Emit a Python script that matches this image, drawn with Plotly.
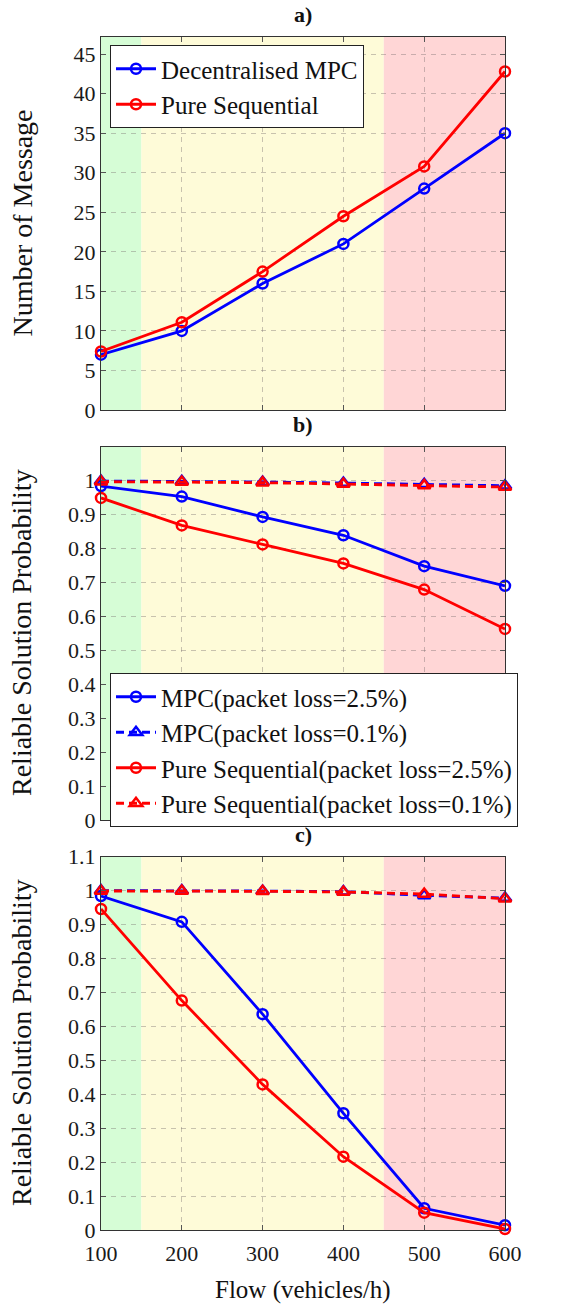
import plotly.graph_objects as go

# ---------------- data ----------------
flow = [100, 200, 300, 400, 500, 600]

# panel a) number of messages
msg_mpc = [7.0, 10.0, 16.0, 21.0, 28.0, 35.0]
msg_seq = [7.4, 11.1, 17.5, 24.5, 30.8, 42.8]

# panel b) reliable solution probability
b_mpc_25 = [0.984, 0.953, 0.893, 0.839, 0.748, 0.690]
b_mpc_01 = [0.999, 0.998, 0.996, 0.993, 0.989, 0.985]
b_seq_25 = [0.949, 0.868, 0.812, 0.756, 0.679, 0.563]
b_seq_01 = [0.997, 0.996, 0.994, 0.990, 0.986, 0.981]

# panel c) reliable solution probability
c_mpc_25 = [0.984, 0.908, 0.636, 0.344, 0.064, 0.014]
c_mpc_01 = [1.000, 1.000, 0.999, 0.997, 0.986, 0.978]
c_seq_25 = [0.946, 0.676, 0.429, 0.216, 0.051, 0.003]
c_seq_01 = [0.999, 0.999, 0.998, 0.996, 0.990, 0.976]

# shaded flow regimes
regions = [(100, 150, "#d6fdd6"),
           (150, 450, "#fefbd8"),
           (450, 600, "#ffd6d6")]

x_ticks = [100, 200, 300, 400, 500, 600]
a_ticks = [0, 5, 10, 15, 20, 25, 30, 35, 40, 45]
b_ticks = [0, 0.1, 0.2, 0.3, 0.4, 0.5, 0.6, 0.7, 0.8, 0.9, 1]
b_ticktext = ["0", "0.1", "0.2", "0.3", "0.4", "0.5", "0.6", "0.7", "0.8", "0.9", "1"]
c_ticks = [0, 0.1, 0.2, 0.3, 0.4, 0.5, 0.6, 0.7, 0.8, 0.9, 1, 1.1]
c_ticktext = ["0", "0.1", "0.2", "0.3", "0.4", "0.5", "0.6", "0.7", "0.8", "0.9", "1", "1.1"]

# ---------------- layout geometry ----------------
W, H = 584, 1304
FONT = "Liberation Serif"
BLUE = "#0000ff"
RED = "#ff0000"

def ypaper(px):
    return (H - px) / H

xdom = [101 / W, 505 / W]
doms = {
    "a": [ypaper(410), ypaper(36.7)],
    "b": [ypaper(820), ypaper(446.7)],
    "c": [ypaper(1230), ypaper(856.7)],
}

fig = go.Figure()

def line_trace(x, y, color, dash, symbol, name, xa, ya, legend, showlegend=True, msize=10):
    return go.Scatter(
        x=x, y=y, mode="lines+markers", name=name,
        line=dict(color=color, width=2.8, dash=dash),
        marker=dict(symbol=symbol, size=msize, color=color,
                    line=dict(color=color, width=2.5)),
        xaxis=xa, yaxis=ya, legend=legend, showlegend=showlegend,
        cliponaxis=False,
    )

DASH = "8px,5px"

# panel a
fig.add_trace(line_trace(flow, msg_mpc, BLUE, "solid", "circle-open", "Decentralised MPC", "x", "y", "legend"))
fig.add_trace(line_trace(flow, msg_seq, RED, "solid", "circle-open", "Pure Sequential", "x", "y", "legend"))

# panel b
fig.add_trace(line_trace(flow, b_mpc_25, BLUE, "solid", "circle-open", "MPC(packet loss=2.5%)", "x2", "y2", "legend2"))
fig.add_trace(line_trace(flow, b_mpc_01, BLUE, DASH, "triangle-up-open", "MPC(packet loss=0.1%)", "x2", "y2", "legend2", msize=11))
fig.add_trace(line_trace(flow, b_seq_25, RED, "solid", "circle-open", "Pure Sequential(packet loss=2.5%)", "x2", "y2", "legend2"))
fig.add_trace(line_trace(flow, b_seq_01, RED, DASH, "triangle-up-open", "Pure Sequential(packet loss=0.1%)", "x2", "y2", "legend2", msize=11))

# panel c
fig.add_trace(line_trace(flow, c_mpc_25, BLUE, "solid", "circle-open", "MPC(packet loss=2.5%)", "x3", "y3", "legend", False))
fig.add_trace(line_trace(flow, c_mpc_01, BLUE, DASH, "triangle-up-open", "MPC(packet loss=0.1%)", "x3", "y3", "legend", False, msize=11))
fig.add_trace(line_trace(flow, c_seq_25, RED, "solid", "circle-open", "Pure Sequential(packet loss=2.5%)", "x3", "y3", "legend", False))
fig.add_trace(line_trace(flow, c_seq_01, RED, DASH, "triangle-up-open", "Pure Sequential(packet loss=0.1%)", "x3", "y3", "legend", False, msize=11))

# shaded regions
shapes = []
for xr, yr in [("x", "y"), ("x2", "y2"), ("x3", "y3")]:
    for x0, x1, col in regions:
        shapes.append(dict(type="rect", xref=xr, yref=yr + " domain", x0=x0, x1=x1, y0=0, y1=1,
                           fillcolor=col, line=dict(width=0), layer="below"))

axis_common = dict(
    showline=True, linecolor="#333333", linewidth=1.4, mirror="ticks",
    ticks="inside", ticklen=5, tickcolor="#555555", tickwidth=1,
    showgrid=True, gridcolor="rgba(120,110,110,0.4)", griddash="5px,5px", gridwidth=1,
    zeroline=False, automargin=False,
    tickfont=dict(family=FONT, size=22, color="#1a1a1a"),
)

for i, key in enumerate(["a", "b", "c"], start=1):
    suffix = "" if i == 1 else str(i)
    fig.layout["xaxis" + suffix] = dict(
        axis_common, domain=xdom, range=[100, 600], tickvals=x_ticks,
        anchor="y" + suffix, showticklabels=(key == "c"), ticklabelstandoff=3,
    )

fig.layout["yaxis"] = dict(axis_common, domain=doms["a"], range=[0, 47.2], tickvals=a_ticks,
                           anchor="x")
fig.layout["yaxis2"] = dict(axis_common, domain=doms["b"], range=[0, 1.1], tickvals=b_ticks,
                            ticktext=b_ticktext, anchor="x2")
fig.layout["yaxis3"] = dict(axis_common, domain=doms["c"], range=[0, 1.1], tickvals=c_ticks,
                            ticktext=c_ticktext, anchor="x3")

legend_common = dict(
    bgcolor="white", bordercolor="#222222", borderwidth=1,
    font=dict(family=FONT, size=25, color="#111111"),
    xanchor="left", yanchor="top", tracegroupgap=0, itemwidth=40,
)

def ann(text, xpx, ypx, size, angle=0):
    return dict(text=text, x=xpx / W, y=ypaper(ypx), xref="paper", yref="paper",
                xanchor="center", yanchor="middle", textangle=angle, showarrow=False,
                font=dict(family=FONT, size=size, color="#111111"))

annotations = [
    ann("<b>a)</b>", 303, 14, 22),
    ann("<b>b)</b>", 303, 424, 22),
    ann("<b>c)</b>", 303, 834, 22),
    ann("Number of Message", 22, 223.5, 28, -90),
    ann("Reliable Solution Probability", 21, 633, 28, -90),
    ann("Reliable Solution Probability", 21, 1043, 28, -90),
    ann("Flow (vehicles/h)", 303, 1290, 25),
]

fig.update_layout(
    width=W, height=H, margin=dict(l=0, r=0, t=0, b=0, pad=0, autoexpand=False),
    paper_bgcolor="white", plot_bgcolor="white",
    legend=dict(legend_common, x=110 / W, y=ypaper(45)),
    legend2=dict(legend_common, x=110 / W, y=ypaper(673)),
    annotations=annotations, shapes=shapes,
    font=dict(family=FONT),
)

fig.write_html("out.html")
